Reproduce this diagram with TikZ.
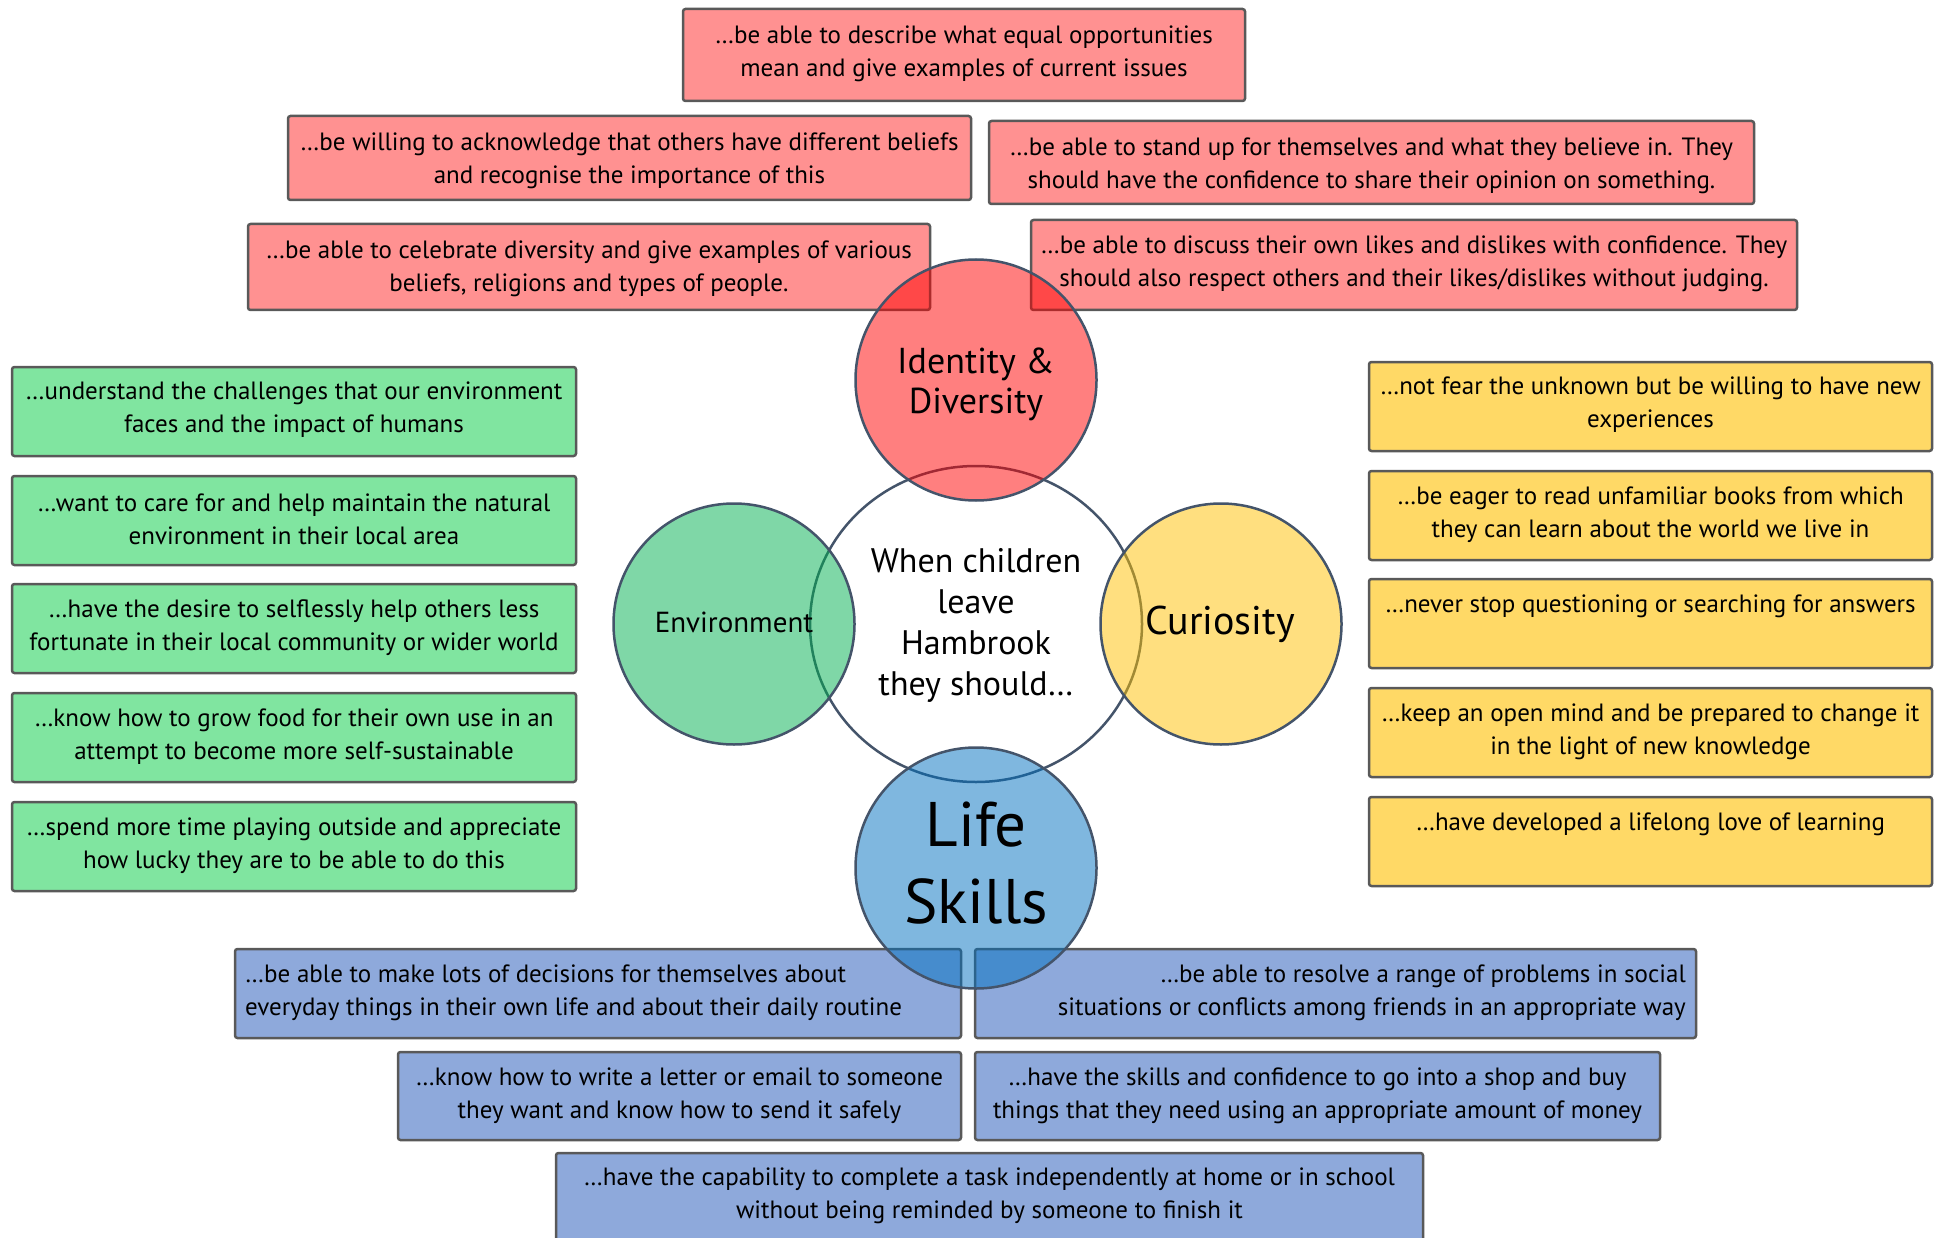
\documentclass[tikz,border=0pt]{standalone}
\usepackage{fontspec}
\setmainfont{PT Sans}
\usetikzlibrary{shapes.geometric}
\definecolor{redcardfill}{HTML}{FF9191}
\definecolor{greencardfill}{HTML}{80E5A0}
\definecolor{yellowcardfill}{HTML}{FFD966}
\definecolor{bluecardfill}{HTML}{8EA9DB}
\definecolor{cardline}{HTML}{595959}
\definecolor{ringline}{HTML}{44546A}
\definecolor{ringred}{HTML}{FF0000}
\definecolor{ringgreen}{HTML}{00B050}
\definecolor{ringyellow}{HTML}{FFC000}
\definecolor{ringblue}{HTML}{0070C0}
\begin{document}
\begin{tikzpicture}[x=1pt,y=-1pt,
  card/.style={draw=cardline, line width=2.5pt, rounded corners=2.5pt, inner sep=0pt},
  redcard/.style={card, fill=redcardfill},
  greencard/.style={card, fill=greencardfill},
  yellowcard/.style={card, fill=yellowcardfill},
  bluecard/.style={card, fill=bluecardfill},
  txt/.style={font=\fontsize{25}{33}\selectfont, align=center, inner sep=0pt},
  txtl/.style={font=\fontsize{25}{33}\selectfont, align=left, inner sep=0pt},
  txtr/.style={font=\fontsize{25}{33}\selectfont, align=right, inner sep=0pt},
  bubble/.style={circle, draw=ringline, line width=2.5pt, fill opacity=0.5, draw opacity=1, text opacity=1, minimum size=241pt, inner sep=0pt, align=center}
]
\useasboundingbox (0,0) rectangle (1937,1238);
\clip (0,0) rectangle (1937,1238);

% ---------- red cards ----------
\node[redcard, minimum width=562, minimum height=92] (r1) at (964,55) {};
\node[txt] (r1t) at (964,53.5) {…be able to describe what equal opportunities\\mean and give examples of current issues};
\node[redcard, minimum width=683, minimum height=84] (r2) at (629.5,158) {};
\node[txt] (r2t) at (629.5,160.5) {…be willing to acknowledge that others have different beliefs\\and recognise the importance of this};
\node[redcard, minimum width=765, minimum height=83] (r3) at (1371.5,162.5) {};
\node[txt] (r3t) at (1371.5,165.5) {…be able to stand up for themselves and what they believe in. They\\should have the confidence to share their opinion on something.};
\node[redcard, minimum width=682, minimum height=86] (r4) at (589,267) {};
\node[txt] (r4t) at (589,268.5) {…be able to celebrate diversity and give examples of various\\beliefs, religions and types of people.};
\node[redcard, minimum width=766, minimum height=90] (r5) at (1414,265) {};
\node[txt] (r5t) at (1414,264) {…be able to discuss their own likes and dislikes with confidence. They\\should also respect others and their likes/dislikes without judging.};

% ---------- green cards ----------
\node[greencard, minimum width=564, minimum height=89] (g1) at (294,411.5) {};
\node[txt] (g1t) at (294,410) {…understand the challenges that our environment\\faces and the impact of humans};
\node[greencard, minimum width=564, minimum height=89] (g2) at (294,520.5) {};
\node[txt] (g2t) at (294,519) {…want to care for and help maintain the natural\\environment in their local area};
\node[greencard, minimum width=564, minimum height=89] (g3) at (294,628.5) {};
\node[txt] (g3t) at (294,627.5) {…have the desire to selflessly help others less\\fortunate in their local community or wider world};
\node[greencard, minimum width=564, minimum height=89] (g4) at (294,737.5) {};
\node[txt] (g4t) at (294,736.5) {…know how to grow food for their own use in an\\attempt to become more self-sustainable};
\node[greencard, minimum width=564, minimum height=89] (g5) at (294,846.5) {};
\node[txt] (g5t) at (294,845.5) {…spend more time playing outside and appreciate\\how lucky they are to be able to do this};

% ---------- yellow cards ----------
\node[yellowcard, minimum width=563, minimum height=89] (y1) at (1650.5,406.5) {};
\node[txt] (y1t) at (1650.5,405) {…not fear the unknown but be willing to have new\\experiences};
\node[yellowcard, minimum width=563, minimum height=89] (y2) at (1650.5,515.5) {};
\node[txt] (y2t) at (1650.5,514.5) {…be eager to read unfamiliar books from which\\they can learn about the world we live in};
\node[yellowcard, minimum width=563, minimum height=89] (y3) at (1650.5,623.5) {};
\node[txt] (y3t) at (1650.5,606.5) {…never stop questioning or searching for answers};
\node[yellowcard, minimum width=563, minimum height=89] (y4) at (1650.5,732.5) {};
\node[txt] (y4t) at (1650.5,731.5) {…keep an open mind and be prepared to change it\\in the light of new knowledge};
\node[yellowcard, minimum width=563, minimum height=89] (y5) at (1650.5,841.5) {};
\node[txt] (y5t) at (1650.5,824) {…have developed a lifelong love of learning};

% ---------- blue cards ----------
\node[bluecard, minimum width=726, minimum height=89] (b1) at (598,993.5) {};
\node[txtl, anchor=west] (b1t) at (245,992.5) {…be able to make lots of decisions for themselves about\\everyday things in their own life and about their daily routine};
\node[bluecard, minimum width=721, minimum height=89] (b2) at (1335.5,993.5) {};
\node[txtr, anchor=east] (b2t) at (1686,992.5) {…be able to resolve a range of problems in social\\situations or conflicts among friends in an appropriate way};
\node[bluecard, minimum width=563, minimum height=88] (b3) at (679.5,1096) {};
\node[txt] (b3t) at (679.5,1095.5) {…know how to write a letter or email to someone\\they want and know how to send it safely};
\node[bluecard, minimum width=685, minimum height=88] (b4) at (1317.5,1096) {};
\node[txt] (b4t) at (1317.5,1095.5) {…have the skills and confidence to go into a shop and buy\\things that they need using an appropriate amount of money};
\node[bluecard, minimum width=867, minimum height=100] (b5) at (989.5,1203) {};
\node[txt] (b5t) at (989.5,1195.5) {…have the capability to complete a task independently at home or in school\\without being reminded by someone to finish it};

% ---------- centre ----------
\node[ellipse, draw=ringline, line width=2.5pt, fill=white, minimum width=332pt, minimum height=316pt, inner sep=0pt] (core) at (976,624) {};

\node[bubble, fill=ringred, font=\fontsize{36}{40}\selectfont] (ident) at (976,380) {};
\node[font=\fontsize{36}{40}\selectfont, align=center, inner sep=0pt] (identt) at (976,384) {Identity \&\\Diversity};
\node[bubble, fill=ringgreen] (env) at (734,624) {};
\node[font=\fontsize{29}{34}\selectfont, inner sep=0pt] (envt) at (734,622) {Environment};
\node[bubble, fill=ringyellow] (cur) at (1221,624) {};
\node[font=\fontsize{40}{44}\selectfont, inner sep=0pt] (curt) at (1220,624) {Curiosity};
\node[bubble, fill=ringblue] (life) at (976,868) {};
\node[font=\fontsize{63}{77}\selectfont, align=center, inner sep=0pt] (lifet) at (976,863) {Life\\Skills};

\node[font=\fontsize{34}{41}\selectfont, align=center, inner sep=0pt] (coret) at (976,625) {When children\\leave\\Hambrook\\they should…};
\end{tikzpicture}
\end{document}
